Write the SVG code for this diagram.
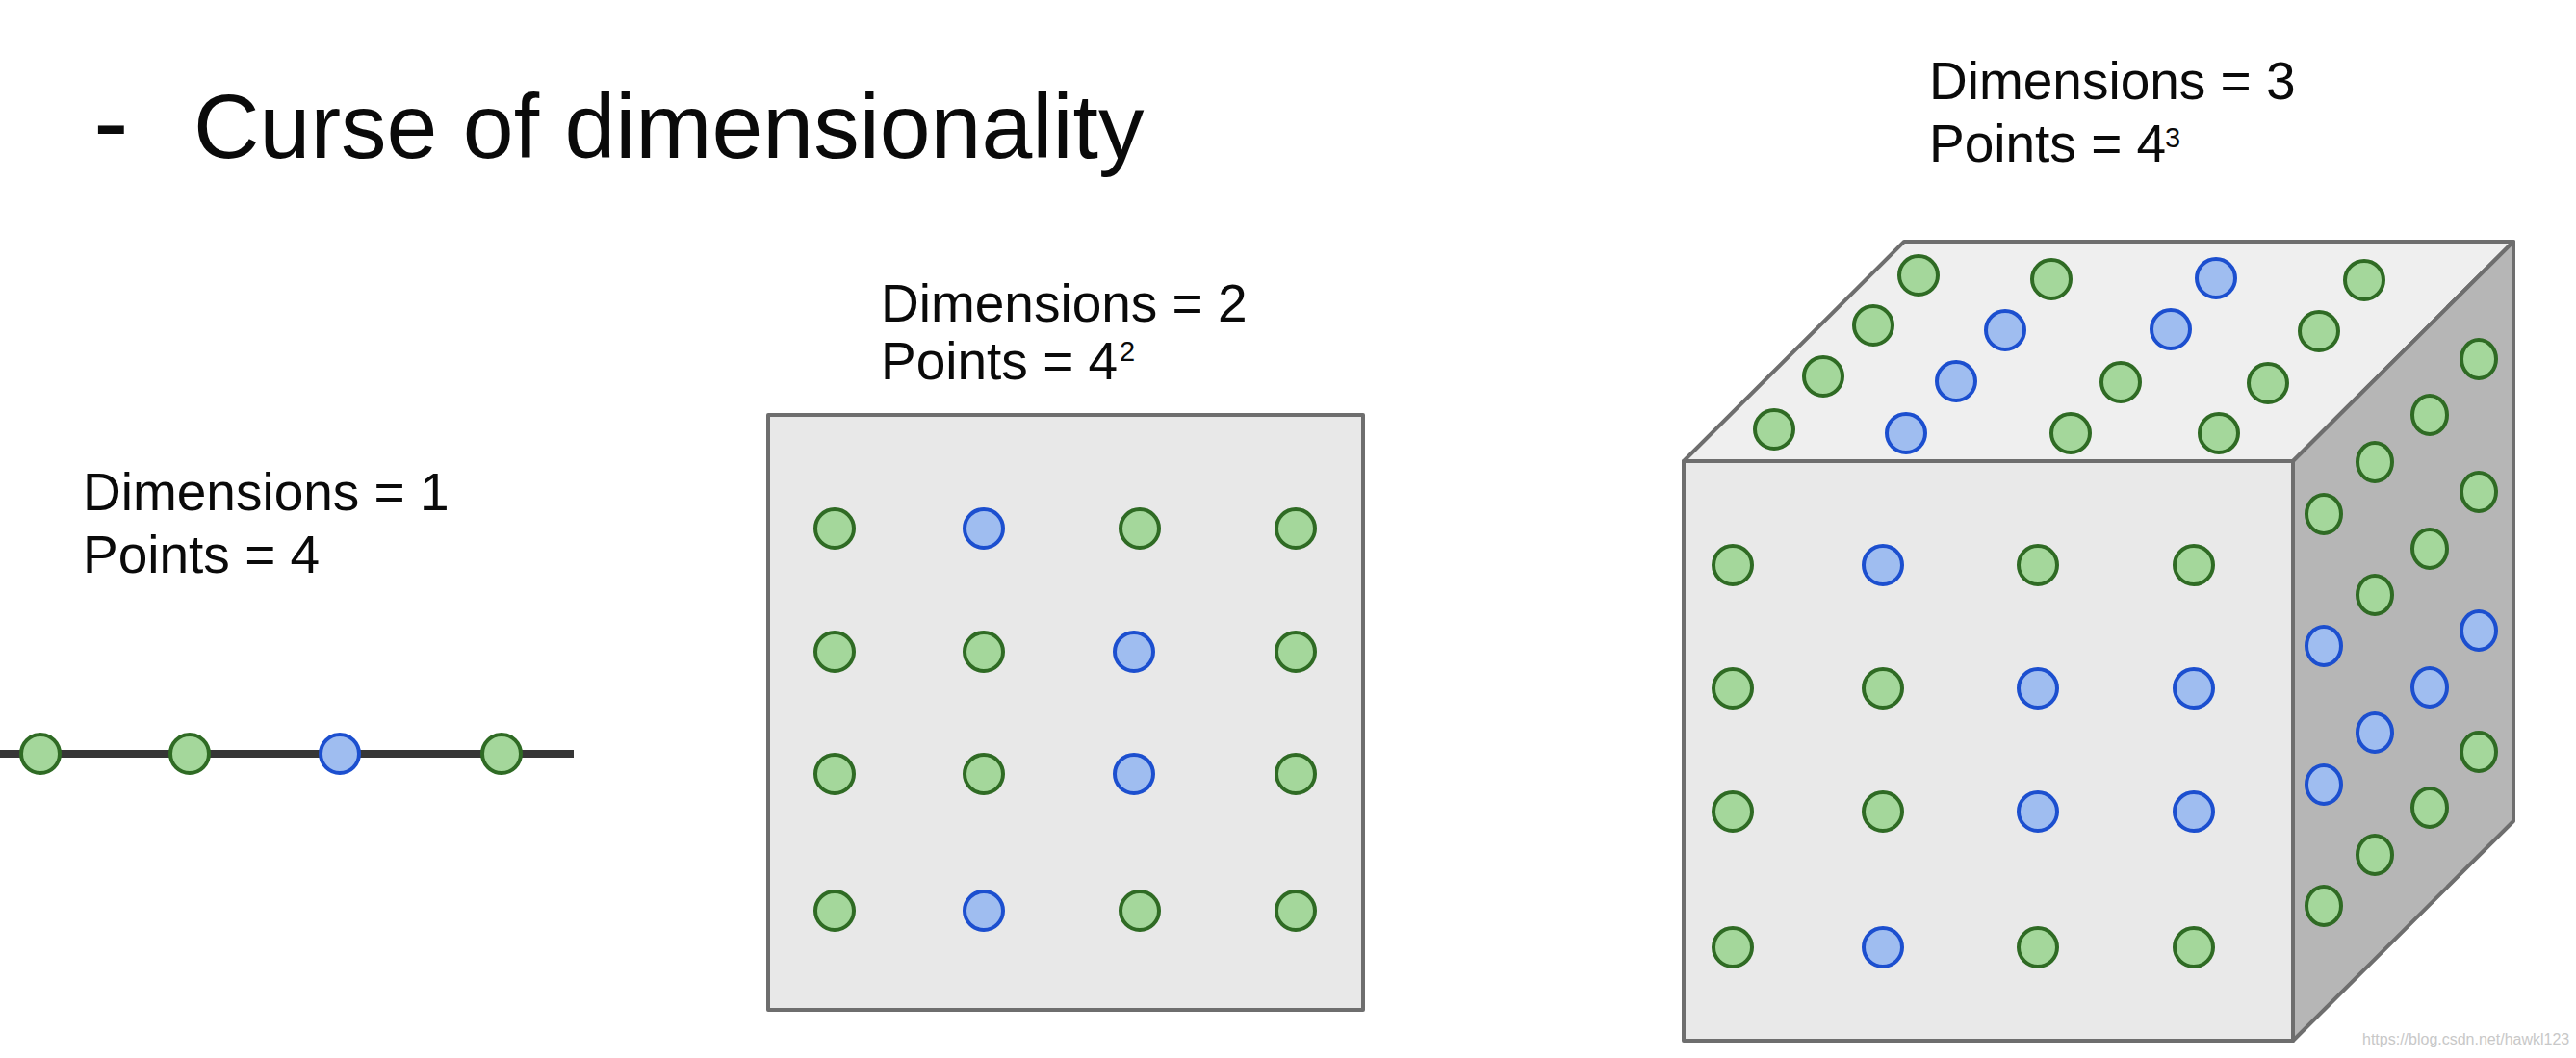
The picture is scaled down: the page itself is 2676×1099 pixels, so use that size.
<svg xmlns="http://www.w3.org/2000/svg" width="2676" height="1099" viewBox="0 0 2676 1099">
  <defs>
    <style>
      .txt { font-family: "Liberation Sans", Arial, Helvetica, sans-serif; fill: #0a0a0a; }
      .title { font-size: 95px; }
      .lbl { font-size: 55px; }
      .g { fill: #a4d79b; stroke: #2f6b24; stroke-width: 4; }
      .b { fill: #9fbdf0; stroke: #1c4fcf; stroke-width: 4; }
      .edge { stroke: #6e6e6e; stroke-width: 4; stroke-linejoin: round; }
      .wm { font-family: "Liberation Sans", Arial, sans-serif; font-size: 16px; fill: #c8c8c8; }
    </style>
  </defs>

  <rect width="2676" height="1099" fill="#ffffff"/>

  <!-- heading -->
  <g id="title">
    <text class="txt" x="97" y="164" style="font-size:110px">-</text>
    <text class="txt title" x="201" y="164">Curse of dimensionality</text>
  </g>

  <!-- one dimension: points on a line -->
  <g id="dim1">
    <text class="txt lbl" x="86" y="530">Dimensions = 1</text>
    <text class="txt lbl" x="86" y="595">Points = 4</text>
    <line x1="0" y1="783" x2="596" y2="783" stroke="#363636" stroke-width="8"/>
    <circle class="g" cx="42" cy="783" r="20"/>
    <circle class="g" cx="197" cy="783" r="20"/>
    <circle class="b" cx="353" cy="783" r="20"/>
    <circle class="g" cx="521" cy="783" r="20"/>
  </g>

  <!-- two dimensions: points on a square -->
  <g id="dim2">
    <text class="txt lbl" x="915" y="334">Dimensions = 2</text>
    <text class="txt lbl" x="915" y="394">Points = 4</text>
    <text class="txt" x="1163" y="375" style="font-size:29px">2</text>
    <rect x="798" y="431" width="618" height="618" fill="#e8e8e8" class="edge"/>
    <circle class="g" cx="867" cy="549" r="20"/>
    <circle class="b" cx="1022" cy="549" r="20"/>
    <circle class="g" cx="1184" cy="549" r="20"/>
    <circle class="g" cx="1346" cy="549" r="20"/>
    <circle class="g" cx="867" cy="677" r="20"/>
    <circle class="g" cx="1022" cy="677" r="20"/>
    <circle class="b" cx="1178" cy="677" r="20"/>
    <circle class="g" cx="1346" cy="677" r="20"/>
    <circle class="g" cx="867" cy="804" r="20"/>
    <circle class="g" cx="1022" cy="804" r="20"/>
    <circle class="b" cx="1178" cy="804" r="20"/>
    <circle class="g" cx="1346" cy="804" r="20"/>
    <circle class="g" cx="867" cy="946" r="20"/>
    <circle class="b" cx="1022" cy="946" r="20"/>
    <circle class="g" cx="1184" cy="946" r="20"/>
    <circle class="g" cx="1346" cy="946" r="20"/>
  </g>

  <!-- three dimensions: points on a cube -->
  <g id="dim3">
    <text class="txt lbl" x="2004" y="103">Dimensions = 3</text>
    <text class="txt lbl" x="2004" y="168">Points = 4</text>
    <text class="txt" x="2249" y="153" style="font-size:29px">3</text>

    <!-- faces -->
    <polygon points="1749,479 1978,251 2611,251 2382,479" fill="#efefef" class="edge"/>
    <polygon points="2382,479 2611,251 2611,853 2382,1081" fill="#b6b6b6" class="edge"/>
    <rect x="1749" y="479" width="633" height="602" fill="#e9e9e9" class="edge"/>

    <!-- top face -->
    <circle class="g" cx="1993" cy="286" r="20"/>
    <circle class="g" cx="2131" cy="290" r="20"/>
    <circle class="b" cx="2302" cy="289" r="20"/>
    <circle class="g" cx="2456" cy="291" r="20"/>
    <circle class="g" cx="1946" cy="338" r="20"/>
    <circle class="b" cx="2083" cy="343" r="20"/>
    <circle class="b" cx="2255" cy="342" r="20"/>
    <circle class="g" cx="2409" cy="344" r="20"/>
    <circle class="g" cx="1894" cy="391" r="20"/>
    <circle class="b" cx="2032" cy="396" r="20"/>
    <circle class="g" cx="2203" cy="397" r="20"/>
    <circle class="g" cx="2356" cy="398" r="20"/>
    <circle class="g" cx="1843" cy="446" r="20"/>
    <circle class="b" cx="1980" cy="450" r="20"/>
    <circle class="g" cx="2151" cy="450" r="20"/>
    <circle class="g" cx="2305" cy="450" r="20"/>

    <!-- front face -->
    <circle class="g" cx="1800" cy="587" r="20"/>
    <circle class="b" cx="1956" cy="587" r="20"/>
    <circle class="g" cx="2117" cy="587" r="20"/>
    <circle class="g" cx="2279" cy="587" r="20"/>
    <circle class="g" cx="1800" cy="715" r="20"/>
    <circle class="g" cx="1956" cy="715" r="20"/>
    <circle class="b" cx="2117" cy="715" r="20"/>
    <circle class="b" cx="2279" cy="715" r="20"/>
    <circle class="g" cx="1800" cy="843" r="20"/>
    <circle class="g" cx="1956" cy="843" r="20"/>
    <circle class="b" cx="2117" cy="843" r="20"/>
    <circle class="b" cx="2279" cy="843" r="20"/>
    <circle class="g" cx="1800" cy="984" r="20"/>
    <circle class="b" cx="1956" cy="984" r="20"/>
    <circle class="g" cx="2117" cy="984" r="20"/>
    <circle class="g" cx="2279" cy="984" r="20"/>

    <!-- side face -->
    <ellipse class="g" cx="2414" cy="534" rx="18" ry="20"/>
    <ellipse class="b" cx="2414" cy="671" rx="18" ry="20"/>
    <ellipse class="b" cx="2414" cy="815" rx="18" ry="20"/>
    <ellipse class="g" cx="2414" cy="941" rx="18" ry="20"/>
    <ellipse class="g" cx="2467" cy="480" rx="18" ry="20"/>
    <ellipse class="g" cx="2467" cy="618" rx="18" ry="20"/>
    <ellipse class="b" cx="2467" cy="761" rx="18" ry="20"/>
    <ellipse class="g" cx="2467" cy="888" rx="18" ry="20"/>
    <ellipse class="g" cx="2524" cy="431" rx="18" ry="20"/>
    <ellipse class="g" cx="2524" cy="570" rx="18" ry="20"/>
    <ellipse class="b" cx="2524" cy="714" rx="18" ry="20"/>
    <ellipse class="g" cx="2524" cy="839" rx="18" ry="20"/>
    <ellipse class="g" cx="2575" cy="373" rx="18" ry="20"/>
    <ellipse class="g" cx="2575" cy="511" rx="18" ry="20"/>
    <ellipse class="b" cx="2575" cy="655" rx="18" ry="20"/>
    <ellipse class="g" cx="2575" cy="781" rx="18" ry="20"/>
  </g>

  <g id="connectors"/>

  <text class="wm" x="2454" y="1085">https://blog.csdn.net/hawkl123</text>
</svg>
